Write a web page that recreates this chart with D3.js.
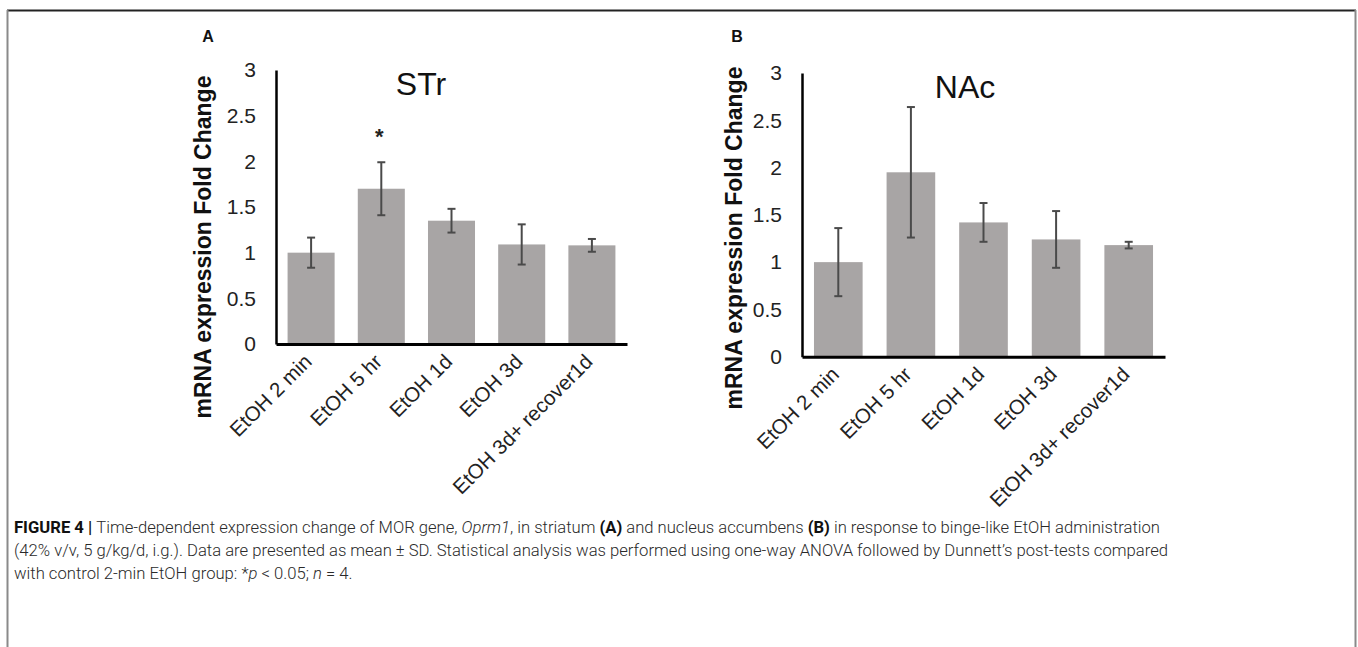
<!DOCTYPE html>
<html><head><meta charset="utf-8">
<script src="https://cdn.jsdelivr.net/npm/d3@7"></script>
<style>body{margin:0;background:#fff}svg{display:block}</style>
</head><body>
<script>
// ---- data ----
const categories = ["EtOH 2 min", "EtOH 5 hr", "EtOH 1d", "EtOH 3d", "EtOH 3d+ recover1d"];
const strMeans = [1.0, 1.70, 1.35, 1.09, 1.08];
const strSD = [0.165, 0.29, 0.13, 0.22, 0.07];
const nacMeans = [1.0, 1.95, 1.42, 1.24, 1.18];
const nacSD = [0.36, 0.69, 0.205, 0.30, 0.035];
const strSignificance = ["", "*", "", "", ""];
const nacSignificance = ["", "", "", "", ""];
const yTicks = [0, 0.5, 1, 1.5, 2, 2.5, 3];
const tickLabels = ["0", "0.5", "1", "1.5", "2", "2.5", "3"];
const yLabel = "mRNA expression Fold Change";

const W = 1358, H = 647;
const svg = d3.select("body").append("svg").attr("width", W).attr("height", H);

// frame
svg.append("line").attr("x1", 7).attr("x2", 1356).attr("y1", 10.5).attr("y2", 10.5).attr("stroke", "#222").attr("stroke-width", 2);
svg.append("line").attr("x1", 7.5).attr("x2", 7.5).attr("y1", 10).attr("y2", H).attr("stroke", "#8a8a8a").attr("stroke-width", 2);
svg.append("line").attr("x1", 1355.5).attr("x2", 1355.5).attr("y1", 10).attr("y2", H).attr("stroke", "#8a8a8a").attr("stroke-width", 2);

const panels = [
  {letter: "A", letterX: 208, title: "STr", titleX: 421, titleY: 95, x0: 276, x1: 627, yTop: 70, yBot: 344,
   labelX: 203, labelY: 247, means: strMeans, sd: strSD, sig: strSignificance},
  {letter: "B", letterX: 737, title: "NAc", titleX: 965, titleY: 98, x0: 802, x1: 1165, yTop: 73, yBot: 356.7,
   labelX: 734, labelY: 238, means: nacMeans, sd: nacSD, sig: nacSignificance}
];

const font = "Liberation Sans, Arial, Helvetica, sans-serif";

panels.forEach(p => {
  const g = svg.append("g");
  const x = d3.scaleBand().domain(categories).range([p.x0, p.x1]).paddingInner(0.33).paddingOuter(0.165);
  const y = d3.scaleLinear().domain([0, 3]).range([p.yBot, p.yTop]);

  // bars
  g.selectAll("rect.bar").data(categories).join("rect")
    .attr("x", d => x(d)).attr("width", x.bandwidth())
    .attr("y", (d, i) => y(p.means[i])).attr("height", (d, i) => y(0) - y(p.means[i]))
    .attr("fill", "#a8a5a5");

  // error bars
  const cx = d => x(d) + x.bandwidth() / 2;
  const eg = g.append("g").attr("stroke", "#4a4a4a").attr("stroke-width", 2);
  categories.forEach((d, i) => {
    const hi = y(p.means[i] + p.sd[i]), lo = y(p.means[i] - p.sd[i]);
    eg.append("line").attr("x1", cx(d)).attr("x2", cx(d)).attr("y1", hi).attr("y2", lo);
    eg.append("line").attr("x1", cx(d) - 4).attr("x2", cx(d) + 4).attr("y1", hi).attr("y2", hi);
    eg.append("line").attr("x1", cx(d) - 4).attr("x2", cx(d) + 4).attr("y1", lo).attr("y2", lo);
    if (p.sig[i]) {
      g.append("text").attr("x", cx(d) - 2).attr("y", hi - 18).attr("text-anchor", "middle")
        .attr("font-family", font).attr("font-weight", "bold").attr("font-size", 22).attr("fill", "#222")
        .text(p.sig[i]);
    }
  });

  // y axis
  const ya = d3.axisLeft(y).tickValues(yTicks).tickFormat((d, i) => tickLabels[i]).tickSize(0).tickPadding(20);
  const yg = g.append("g").attr("transform", `translate(${p.x0},0)`).call(ya);
  yg.select(".domain").attr("stroke", "#000").attr("stroke-width", 2.5);
  yg.selectAll("text").attr("font-family", font).attr("font-size", 21).attr("fill", "#222");

  // x axis
  const xa = d3.axisBottom(x).tickSize(0).tickPadding(0);
  const xg = g.append("g").attr("transform", `translate(0,${p.yBot})`).call(xa);
  xg.select(".domain").attr("stroke", "#000").attr("stroke-width", 3);
  xg.selectAll("text")
    .attr("font-family", font).attr("font-size", 20.5).attr("fill", "#222")
    .attr("text-anchor", "end").attr("dy", "0")
    .attr("transform", "translate(2,19) rotate(-45)");

  // title
  g.append("text").attr("x", p.titleX).attr("y", p.titleY).attr("text-anchor", "middle")
    .attr("font-family", font).attr("font-size", 32).attr("fill", "#111").text(p.title);
  // panel letter
  g.append("text").attr("x", p.letterX).attr("y", 41.5).attr("text-anchor", "middle")
    .attr("font-family", font).attr("font-weight", "bold").attr("font-size", 16).attr("fill", "#111").text(p.letter);
  // y label
  g.append("text").attr("transform", `translate(${p.labelX},${p.labelY}) rotate(-90)`)
    .attr("text-anchor", "middle").attr("dominant-baseline", "central")
    .attr("font-family", font).attr("font-weight", "bold").attr("font-size", 23).attr("fill", "#111").text(yLabel);
});

// caption
const capFont = "Roboto, Liberation Sans, Arial, sans-serif";
const captionLines = [
  [["FIGURE 4 | ", "b"], ["Time-dependent expression change of MOR gene, ", ""], ["Oprm1", "i"], [", in striatum ", ""], ["(A)", "b"], [" and nucleus accumbens ", ""], ["(B)", "b"], [" in response to binge-like EtOH administration", ""]],
  [["(42% v/v, 5 g/kg/d, i.g.). Data are presented as mean ± SD. Statistical analysis was performed using one-way ANOVA followed by Dunnett’s post-tests compared", ""]],
  [["with control 2-min EtOH group: *", ""], ["p", "i"], [" < 0.05; ", ""], ["n", "i"], [" = 4.", ""]]
];
const capY = [533, 556, 579];
const capTargets = [1146, 1154, null];
let factor = 1;
captionLines.forEach((line, li) => {
  const t = svg.append("text").attr("x", 14).attr("y", capY[li])
    .attr("font-family", capFont).attr("font-weight", 300).attr("font-size", 16.5).attr("fill", "#2a2a2a");
  line.forEach(([s, st]) => {
    const ts = t.append("tspan").text(s);
    if (st === "b") ts.attr("font-weight", "bold").attr("fill", "#111");
    if (st === "i") ts.attr("font-style", "italic");
  });
  const nat = t.node().getComputedTextLength();
  if (capTargets[li]) { factor = capTargets[li] / nat; t.attr("textLength", capTargets[li]); }
  else t.attr("textLength", nat * factor);
  t.attr("lengthAdjust", "spacingAndGlyphs");
});
</script>
</body></html>
